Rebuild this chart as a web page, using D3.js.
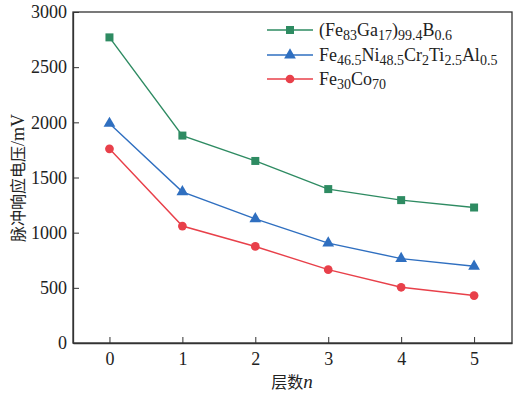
<!DOCTYPE html>
<html>
<head>
<meta charset="utf-8">
<script src="https://cdn.jsdelivr.net/npm/d3@7"></script>
<style>
  body { margin: 0; background: #fff; }
  svg text, svg tspan { font-family: "Liberation Serif", "Tinos", "DejaVu Serif", "Times New Roman", serif; fill: #222; }
  svg .cjk { font-family: "Noto Sans CJK SC", sans-serif; }
</style>
</head>
<body>
<div id="chart"></div>
<script>
var layers = [0, 1, 2, 3, 4, 5];
var feGaB = [2770, 1880, 1650, 1395, 1295, 1228];
var feNiCrTiAl = [1990, 1370, 1125, 905, 765, 695];
var feCo = [1760, 1060, 875, 665, 505, 430];
var yTicks = [0, 500, 1000, 1500, 2000, 2500, 3000];

var svgWidth = 519;
var svgHeight = 393;
var serif = '"Liberation Serif", "Tinos", "DejaVu Serif", serif';

var chartMargin = {
  top: 12,
  right: 7,
  bottom: 50,
  left: 73
};

var chartWidth = svgWidth - chartMargin.left - chartMargin.right;
var chartHeight = svgHeight - chartMargin.top - chartMargin.bottom;

var svg = d3.select("#chart").append("svg")
    .attr("height", svgHeight)
    .attr("width", svgWidth);

var chartGroup = svg.append("g")
  .attr("transform", `translate(${chartMargin.left}, ${chartMargin.top})`);

var xScale = d3.scaleLinear()
  .domain([-0.5, 5.52])
  .range([0, chartWidth]);

var yScale = d3.scaleLinear()
  .domain([0, 3000])
  .range([chartHeight, 0]);

// frame
chartGroup.append("rect")
  .attr("width", chartWidth)
  .attr("height", chartHeight)
  .attr("fill", "none")
  .attr("stroke", "#333")
  .attr("stroke-width", 1.3);

var xAxis = d3.axisBottom(xScale).tickValues(layers).tickFormat(d3.format("d"))
  .tickSizeInner(-6).tickSizeOuter(0).tickPadding(9);
var yAxis = d3.axisLeft(yScale).tickValues(yTicks).tickFormat(d3.format("d"))
  .tickSizeInner(-6).tickSizeOuter(0).tickPadding(6);

var gx = chartGroup.append("g")
  .attr("transform", `translate(0, ${chartHeight})`)
  .call(xAxis);
var gy = chartGroup.append("g")
  .call(yAxis);

[gx, gy].forEach(function(g) {
  g.attr("font-family", null);
  g.select(".domain").attr("stroke", "#333").attr("stroke-width", 1.3);
  g.selectAll(".tick line").attr("stroke", "#333");
  g.selectAll(".tick text")
    .attr("font-size", 18)
    .style("font-family", serif)
    .attr("fill", "#222");
});

var series = [
  { name: "gab", values: feGaB, color: "#2e8b62", shape: d3.symbolSquare, size: 64 },
  { name: "ni", values: feNiCrTiAl, color: "#2f6fc0", shape: d3.symbolTriangle, size: 60 },
  { name: "co", values: feCo, color: "#e8404a", shape: d3.symbolCircle, size: 60 }
];

var line = d3.line()
  .x(function(d, i) { return xScale(layers[i]); })
  .y(function(d) { return yScale(d); });

series.forEach(function(s) {
  chartGroup.append("path")
    .datum(s.values)
    .attr("d", line)
    .attr("fill", "none")
    .attr("stroke", s.color)
    .attr("stroke-width", 1.4);

  chartGroup.selectAll(".pt-" + s.name)
    .data(s.values)
    .enter()
    .append("path")
      .attr("class", "pt-" + s.name)
      .attr("d", d3.symbol().type(s.shape).size(s.size))
      .attr("transform", function(d, i) {
        return `translate(${xScale(layers[i])}, ${yScale(d)})`;
      })
      .style("fill", s.color);
});

// legend
var legendParts = [
  [["(Fe", 0], ["83", 1], ["Ga", 0], ["17", 1], [")", 0], ["99.4", 1], ["B", 0], ["0.6", 1]],
  [["Fe", 0], ["46.5", 1], ["Ni", 0], ["48.5", 1], ["Cr", 0], ["2", 1], ["Ti", 0], ["2.5", 1], ["Al", 0], ["0.5", 1]],
  [["Fe", 0], ["30", 1], ["Co", 0], ["70", 1]]
];
var legendY = [30, 55, 79];

var legend = svg.append("g");
series.forEach(function(s, k) {
  var row = legend.append("g").attr("transform", `translate(0, ${legendY[k]})`);
  row.append("line")
    .attr("x1", 267).attr("x2", 313)
    .attr("stroke", s.color).attr("stroke-width", 1.4);
  row.append("path")
    .attr("d", d3.symbol().type(s.shape).size(s.size))
    .attr("transform", "translate(290, 0)")
    .style("fill", s.color);
  var t = row.append("text")
    .attr("x", 319)
    .attr("y", 6)
    .style("font-family", serif)
    .attr("font-size", 18);
  legendParts[k].forEach(function(p) {
    t.append("tspan")
      .style("font-family", serif)
      .attr("font-size", p[1] ? 14 : 18)
      .attr("baseline-shift", p[1] ? "-4" : null)
      .text(p[0]);
  });
});

// axis titles
var yt = svg.append("text")
  .attr("transform", "translate(24, 178) rotate(-90)")
  .attr("text-anchor", "middle")
  .attr("font-size", 16);
yt.append("tspan").attr("class", "cjk").text("脉冲响应电压");
yt.append("tspan").style("font-family", serif).attr("font-size", 18).text("/mV");

var xt = svg.append("text")
  .attr("x", 292)
  .attr("y", 388)
  .attr("text-anchor", "middle")
  .attr("font-size", 16);
xt.append("tspan").attr("class", "cjk").text("层数");
xt.append("tspan").style("font-family", serif).attr("font-style", "italic").attr("font-size", 19).text("n");
</script>
</body>
</html>
